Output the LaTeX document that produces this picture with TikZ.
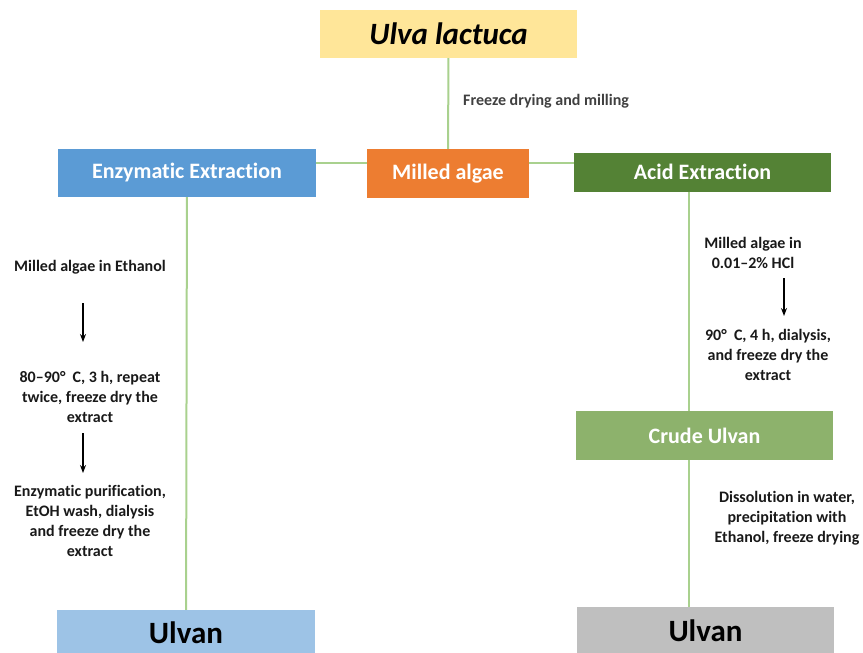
\documentclass[tikz,border=0pt]{standalone}
\usepackage{fontspec}
\setmainfont{Carlito}[Ligatures=NoCommon]
\usepackage{tikz}
\usetikzlibrary{arrows.meta}
\definecolor{boxyellow}{HTML}{FFE699}
\definecolor{boxorange}{HTML}{ED7D31}
\definecolor{boxblue}{HTML}{5B9BD5}
\definecolor{boxgreen}{HTML}{548235}
\definecolor{boxlgreen}{HTML}{8DB26C}
\definecolor{boxlblue}{HTML}{9DC3E6}
\definecolor{boxgrey}{HTML}{BFBFBF}
\definecolor{linkgreen}{HTML}{A9D18E}

\begin{document}
\begin{tikzpicture}[x=1pt,y=-1pt]
  \tikzstyle{stage}=[rectangle, inner sep=0pt, font=\bfseries\fontsize{22}{24}\selectfont, text=white]
  \tikzstyle{note}=[align=center, inner sep=0pt, font=\bfseries\fontsize{16}{20}\selectfont, text=black!90]
  \tikzstyle{link}=[linkgreen, line width=2pt]
  \tikzstyle{arr}=[-{Stealth[length=8pt,width=6pt]}, line width=1.3pt]
  \useasboundingbox (0,0) rectangle (863,653);
  % boxes
  \node[stage, fill=boxyellow, minimum width=257pt, minimum height=48pt, text=black,
        font=\bfseries\itshape\fontsize{31}{34}\selectfont] (U_top) at (448.5,34) {Ulva lactuca};
  \node[stage, fill=boxorange, minimum width=162pt, minimum height=49pt] (U_mill) at (448,173.5) {Milled algae};
  \node[stage, fill=boxblue, minimum width=258pt, minimum height=48pt] (U_enz) at (187,173) {Enzymatic Extraction};
  \node[stage, fill=boxgreen, minimum width=257pt, minimum height=39pt] (U_acid) at (702.5,172) {Acid Extraction};
  \node[stage, fill=boxlgreen, minimum width=257pt, minimum height=49pt] (U_crude) at (704.5,435.5) {Crude Ulvan};
  \node[stage, fill=boxlblue, minimum width=258pt, minimum height=46pt, text=black,
        font=\bfseries\fontsize{31}{34}\selectfont] (U_endL) at (186,633) {Ulvan};
  \node[stage, fill=boxgrey, minimum width=257pt, minimum height=48pt, text=black,
        font=\bfseries\fontsize{31}{34}\selectfont] (U_endR) at (705.5,631) {Ulvan};
  % notes
  \node[note, text=black!75, anchor=west] (N_mill) at (463,101) {Freeze drying and milling};
  \node[note] (N_e1) at (90,267) {Milled algae in Ethanol};
  \node[note] (N_e2) at (90,397) {80–90°\ \ C, 3 h, repeat\\twice, freeze dry the\\extract};
  \node[note] (N_e3) at (90,521) {Enzymatic purification,\\EtOH wash, dialysis\\and freeze dry the\\extract};
  \node[note] (N_a1) at (753,253) {Milled algae in\\0.01–2\% HCl};
  \node[note] (N_a2) at (768,355) {90°\ \ C, 4 h, dialysis,\\and freeze dry the\\extract};
  \node[note] (N_a3) at (787,518) {Dissolution in water,\\precipitation with\\Ethanol, freeze drying};
  % helper coordinates
  \coordinate (hrow) at (0,163);
  \coordinate (acol) at (689,0);
  \coordinate (e1s) at (83,303);
  \coordinate (e1e) at (83,342);
  \coordinate (e2s) at (83,433);
  \coordinate (e2e) at (83,473);
  \coordinate (a1s) at (784,278);
  \coordinate (a1e) at (784,316);
  % connectors
  \draw[link] (U_top) -- (U_mill);
  \draw[link] (U_enz.east |- hrow) -- (U_mill.west |- hrow);
  \draw[link] (U_mill.east |- hrow) -- (U_acid.west |- hrow);
  \draw[link] (U_enz) -- (U_endL);
  \draw[link] (U_acid.south -| acol) -- (U_crude.north -| acol);
  \draw[link] (U_crude.south -| acol) -- (U_endR.north -| acol);
  \draw[arr] (e1s) -- (e1e);
  \draw[arr] (e2s) -- (e2e);
  \draw[arr] (a1s) -- (a1e);
\end{tikzpicture}
\end{document}
